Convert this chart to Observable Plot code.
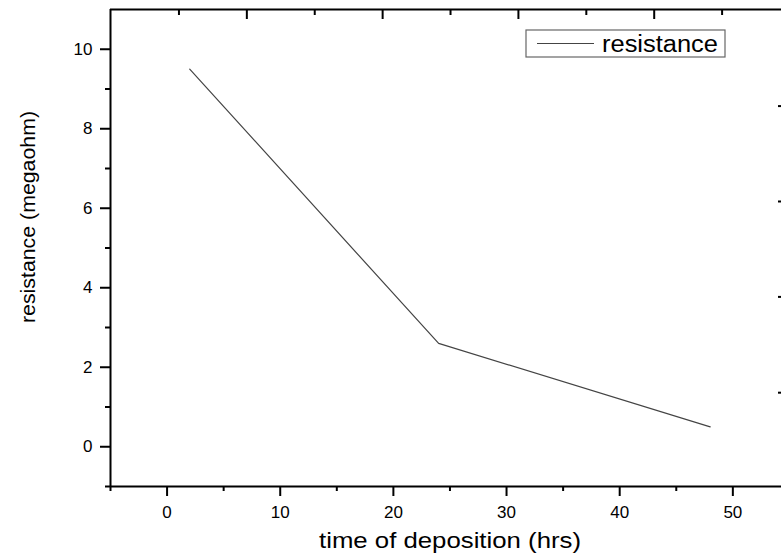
<!DOCTYPE html>
<html>
<head>
<meta charset="utf-8">
<script src="https://cdn.jsdelivr.net/npm/d3@7"></script>
<script src="https://cdn.jsdelivr.net/npm/@observablehq/plot@0.6"></script>
<style>
  html, body { margin: 0; padding: 0; background: white; overflow: hidden; }
  #chart { width: 781px; height: 556px; }
</style>
</head>
<body>
<div id="chart"></div>
<script>
// ---- data ----
const times = [2, 24, 48];
const resistance = [9.5, 2.6, 0.5];
const seriesName = "resistance";

// ---- ticks ----
const xTicks = [0, 10, 20, 30, 40, 50];
const xMinor = [-5, 5, 15, 25, 35, 45];
const yTicks = [0, 2, 4, 6, 8, 10];
const yMinor = [-1, 1, 3, 5, 7, 9];
const topMajor = [7.05, 19.05, 31.05, 43.05];
const topMinor = [1.05, 13.05, 25.05, 37.05, 49.05];
const rightTicks = [8.57, 6.17, 3.77, 1.36];

const xTitle = "time of deposition (hrs)";
const yTitle = "resistance (megaohm)";

const data = times.map((t, i) => ({time: t, resistance: resistance[i]}));

const chart = Plot.plot({
  width: 781,
  height: 556,
  marginLeft: 110,
  marginRight: 0,
  marginTop: 9,
  marginBottom: 70,
  style: {fontFamily: "'Liberation Sans', Arial, sans-serif", background: "white", color: "black"},
  x: {domain: [-5, 54.3]},
  y: {domain: [-1, 11]},
  marks: [
    // frame lines
    Plot.ruleX([-5], {stroke: "black", strokeWidth: 2}),
    Plot.ruleY([-1, 11], {stroke: "black", strokeWidth: 2}),
    // left axis
    Plot.axisY(yTicks, {anchor: "left", tickSize: 10, tickPadding: 8, fontSize: 17, tickFormat: d => d, label: null, stroke: "black", fill: "black", strokeWidth: 2}),
    Plot.axisY(yMinor, {anchor: "left", tickSize: 5, fill: "none", stroke: "black", strokeWidth: 2, label: null}),
    // bottom axis
    Plot.axisX(xTicks, {anchor: "bottom", tickSize: 10, tickPadding: 9, fontSize: 17, tickFormat: d => d, label: null, stroke: "black", fill: "black", strokeWidth: 2}),
    Plot.axisX(xMinor, {anchor: "bottom", tickSize: 5, fill: "none", stroke: "black", strokeWidth: 2, label: null}),
    // top inward ticks
    Plot.ruleX(topMajor, {x: d => d, y1: 11, y2: 11, insetBottom: -10, stroke: "black", strokeWidth: 2}),
    Plot.ruleX(topMinor, {x: d => d, y1: 11, y2: 11, insetBottom: -6, stroke: "black", strokeWidth: 2}),
    // right inward ticks (cropped edge)
    Plot.axisY(rightTicks, {anchor: "left", frameAnchor: "right", tickSize: 3, fill: "none", stroke: "black", strokeWidth: 2, label: null}),
    // data line
    Plot.line(data, {x: "time", y: "resistance", stroke: "#444", strokeWidth: 1.2}),
    // axis titles
    Plot.text([xTitle], {frameAnchor: "bottom", text: d => d, dx: 4, dy: 54, lineAnchor: "middle", textAnchor: "middle", fontSize: 22, fill: "black"}),
    Plot.text([yTitle], {frameAnchor: "left", text: d => d, dx: -82, dy: -31, rotate: -90, lineAnchor: "middle", textAnchor: "middle", fontSize: 21, fill: "black"})
  ]
});

document.getElementById("chart").appendChild(chart);

const svg = d3.select(chart);
svg.selectAll("text").filter(function() { return this.textContent === xTitle; })
  .attr("textLength", 262).attr("lengthAdjust", "spacingAndGlyphs");
svg.selectAll("text").filter(function() { return this.textContent === yTitle; })
  .attr("textLength", 212).attr("lengthAdjust", "spacingAndGlyphs");

// legend
const lg = svg.append("g").attr("aria-label", "legend");
lg.append("rect").attr("x", 526).attr("y", 30).attr("width", 199).attr("height", 27)
  .attr("fill", "white").attr("stroke", "#666").attr("stroke-width", 1.2);
lg.append("line").attr("x1", 537).attr("x2", 594).attr("y1", 43.5).attr("y2", 43.5)
  .attr("stroke", "#444").attr("stroke-width", 1.2);
lg.append("text").attr("x", 602).attr("y", 52).attr("font-size", 23)
  .attr("text-anchor", "start")
  .attr("textLength", 116).attr("lengthAdjust", "spacingAndGlyphs")
  .attr("fill", "black").text(seriesName);
</script>
</body>
</html>
